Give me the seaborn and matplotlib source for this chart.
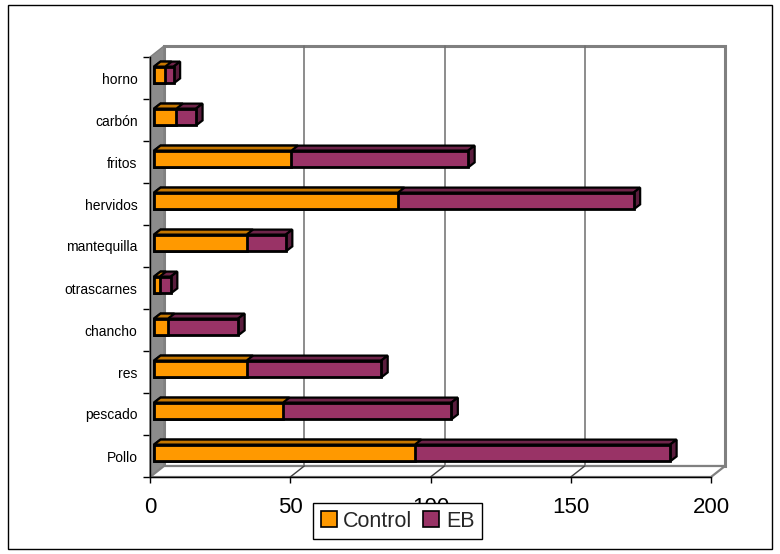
import matplotlib
matplotlib.use("Agg")
import matplotlib.pyplot as plt
import matplotlib.transforms as mtransforms
from matplotlib.patches import Polygon, Rectangle
import seaborn as sns
import pandas as pd

# ---- data -------------------------------------------------------------
categories = ["horno", "carbón", "fritos", "hervidos", "mantequilla",
              "otrascarnes", "chancho", "res", "pescado", "Pollo"]
control = [4, 8, 49, 87, 33, 2, 5, 33, 46, 93]
eb = [3, 7, 63, 84, 14, 4, 25, 48, 60, 91]
x_ticks = [0, 50, 100, 150, 200]
series_names = ["Control", "EB"]

# ---- style ------------------------------------------------------------
CONTROL_COLOR = "#FF9900"
EB_COLOR = "#993366"
CONTROL_TOP = "#C67700"
EB_TOP = "#6E2449"
EB_SIDE = "#5A1D3D"
WALL_GRAY = "#8C8C8C"
EDGE_GRAY = "#808080"

W, H = 780, 554
sns.set_theme(style="white")
plt.rcParams["font.family"] = ["Liberation Sans", "DejaVu Sans"]

fig = plt.figure(figsize=(W / 100, H / 100), dpi=100)
fig.patch.set_facecolor("white")

# front plane of the box, in pixels
fx0, fx1, fy0, fy1 = 150, 711, 57, 477
ax = fig.add_axes([fx0 / W, 1 - fy1 / H, (fx1 - fx0) / W, (fy1 - fy0) / H])
ax.set_facecolor("none")

n = len(categories)
XMAX = x_ticks[-1]
sx = XMAX / (fx1 - fx0)      # data units per pixel, horizontal
sy = n / (fy1 - fy0)         # data units per pixel, vertical


def shift(x, y, d):
    """Move a data point right/up by a pixel offset d=(dx, dy)."""
    return (x + d[0] * sx, y - d[1] * sy)


DEPTH = (14, 11)       # depth of the whole box
BAR_FRONT = (4, 3)     # position of the bar fronts inside the box
BAR_DEPTH = (6.5, 5)   # thickness of each bar

df = pd.DataFrame({"cat": categories, "Control": control, "EB": eb})
df["total"] = df["Control"] + df["EB"]

# ---- stacked bars (total in EB colour, Control over it) ---------------
sns.barplot(data=df, y="cat", x="total", color=EB_COLOR, orient="h",
            width=0.4, edgecolor="black", linewidth=2, saturation=1,
            ax=ax)
n_total = len(ax.patches)
sns.barplot(data=df, y="cat", x="Control", color=CONTROL_COLOR, orient="h",
            width=0.4, edgecolor="black", linewidth=2, saturation=1,
            ax=ax)

ax.set_xlim(0, XMAX)
ax.set_ylim(n - 0.5, -0.5)

bar_tr = ax.transData + mtransforms.ScaledTranslation(
    BAR_FRONT[0] / 100, BAR_FRONT[1] / 100, fig.dpi_scale_trans)

for i, p in enumerate(list(ax.patches)):
    p.set_transform(bar_tr)
    p.set_clip_on(False)
    p.set_zorder(5)
    x0, y0, w, h = p.get_x(), p.get_y(), p.get_width(), p.get_height()
    is_total = i < n_total
    top = [(x0, y0), (x0 + w, y0), shift(x0 + w, y0, BAR_DEPTH),
           shift(x0, y0, BAR_DEPTH)]
    ax.add_patch(Polygon(top, closed=True, transform=bar_tr,
                         facecolor=EB_TOP if is_total else CONTROL_TOP,
                         edgecolor="black", linewidth=1.6, clip_on=False,
                         zorder=3 if is_total else 4))
    if is_total:
        side = [(x0 + w, y0), (x0 + w, y0 + h),
                shift(x0 + w, y0 + h, BAR_DEPTH), shift(x0 + w, y0, BAR_DEPTH)]
        ax.add_patch(Polygon(side, closed=True, transform=bar_tr,
                             facecolor=EB_SIDE, edgecolor="black",
                             linewidth=1.6, clip_on=False, zorder=3))

# ---- box walls --------------------------------------------------------
ytop, ybot = -0.5, n - 0.5
back = [shift(0, ytop, DEPTH), shift(XMAX, ytop, DEPTH),
        shift(XMAX, ybot, DEPTH), shift(0, ybot, DEPTH)]
ax.add_patch(Polygon(back, closed=True, facecolor="white",
                     edgecolor=EDGE_GRAY, linewidth=2.2, clip_on=False,
                     zorder=0.5))
for xv in x_ticks[1:-1]:
    a, b = shift(xv, ytop, DEPTH), shift(xv, ybot, DEPTH)
    ax.plot([a[0], b[0]], [a[1], b[1]], color="#6E6E6E", lw=1.1,
            clip_on=False, zorder=0.6)

left_wall = [(0, ytop), (0, ybot), shift(0, ybot, DEPTH), shift(0, ytop, DEPTH)]
ax.add_patch(Polygon(left_wall, closed=True, facecolor=WALL_GRAY,
                     edgecolor=EDGE_GRAY, linewidth=1, clip_on=False,
                     zorder=0.7))

floor = [(0, ybot), (XMAX, ybot), shift(XMAX, ybot, DEPTH),
         shift(0, ybot, DEPTH)]
ax.add_patch(Polygon(floor, closed=True, facecolor="white",
                     edgecolor=EDGE_GRAY, linewidth=1.6, clip_on=False,
                     zorder=0.7))
for xv in x_ticks[1:-1]:
    a, b = (xv, ybot), shift(xv, ybot, DEPTH)
    ax.plot([a[0], b[0]], [a[1], b[1]], color="#404040", lw=1,
            clip_on=False, zorder=0.8)

# ---- axes, ticks, labels ---------------------------------------------
for s in ["top", "right"]:
    ax.spines[s].set_visible(False)
for s in ["left", "bottom"]:
    ax.spines[s].set_visible(True)
    ax.spines[s].set_color("black")
    ax.spines[s].set_linewidth(1)
    ax.spines[s].set_zorder(2)

ax.set_xticks(x_ticks)
ax.set_xticklabels([str(t) for t in x_ticks], fontsize=16)
ax.tick_params(axis="x", direction="out", length=4.5, width=1,
               color="black", pad=10, labelcolor="black", bottom=True)

ax.set_yticks(range(n))
ax.set_yticklabels(categories, fontsize=10)
ax.set_yticks([k - 0.5 for k in range(n + 1)], minor=True)
ax.tick_params(axis="y", which="major", length=0, pad=9,
               labelcolor="black", left=True)
ax.tick_params(axis="y", which="minor", direction="out", length=5,
               width=1, color="black", left=True)
ax.set_xlabel("")
ax.set_ylabel("")
ax.grid(False)

# ---- legend -----------------------------------------------------------
handles = [Rectangle((0, 0), 1, 1, facecolor=CONTROL_COLOR, edgecolor="black",
                     linewidth=1.2),
           Rectangle((0, 0), 1, 1, facecolor=EB_COLOR, edgecolor="black",
                     linewidth=1.2)]
leg = fig.legend(handles, series_names, ncol=2, loc="upper left",
                 bbox_to_anchor=(313 / W, 1 - 503 / H), borderaxespad=0,
                 frameon=True, fancybox=False, edgecolor="black",
                 framealpha=1, handlelength=0.75, handleheight=0.75,
                 handletextpad=0.3, columnspacing=0.5, borderpad=0.35,
                 fontsize=15.5)
leg.get_frame().set_linewidth(1)

# ---- outer border ------------------------------------------------------
fig.add_artist(Rectangle((8 / W, 1 - 549 / H), (772 - 8) / W, (549 - 5) / H,
                         transform=fig.transFigure, fill=False,
                         edgecolor="black", linewidth=1))

fig.savefig("out.png", dpi=100)
